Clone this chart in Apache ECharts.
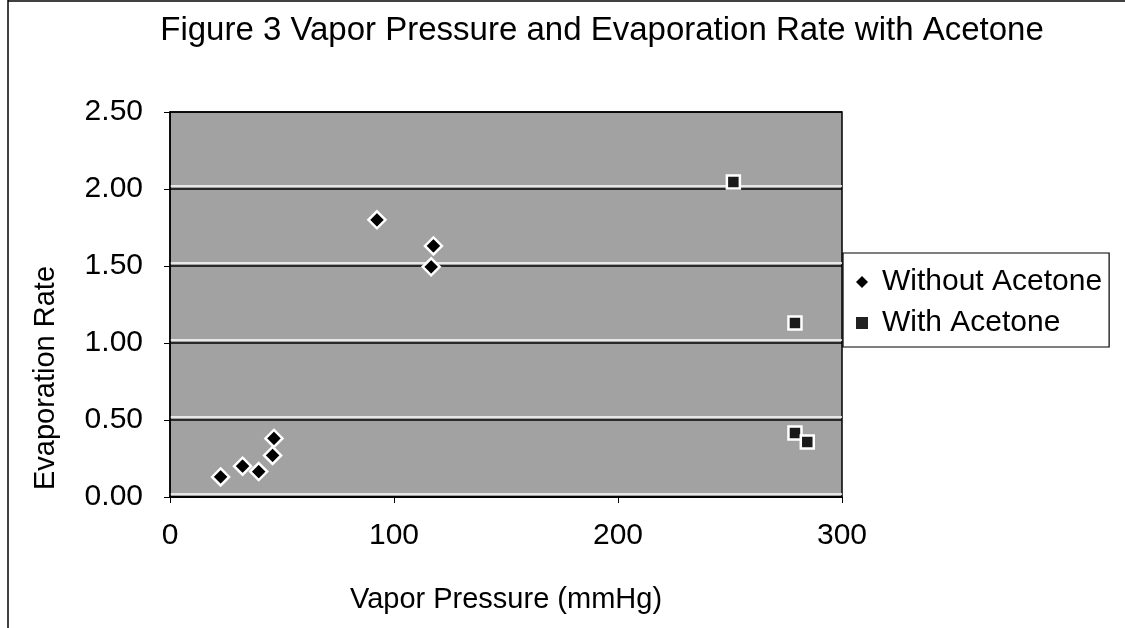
<!DOCTYPE html>
<html>
<head>
<meta charset="utf-8">
<script src="https://cdn.jsdelivr.net/npm/echarts@6/dist/echarts.min.js"></script>
<style>
html,body{margin:0;padding:0;background:#fff;}
#main{width:1125px;height:628px;}
</style>
</head>
<body>
<div id="main"></div>
<script>
// Data
const seriesNames = ['Without Acetone', 'With Acetone'];
const withoutAcetoneX = [22.6, 32.4, 39.6, 45.8, 46.4, 92.4, 117.6, 116.6];
const withoutAcetoneY = [0.13, 0.20, 0.165, 0.27, 0.38, 1.80, 1.63, 1.495];
const withAcetoneX = [251.5, 279, 279, 284.5];
const withAcetoneY = [2.045, 1.13, 0.415, 0.357];
const xTicks = [0, 100, 200, 300];
const yTicks = [0, 0.5, 1.0, 1.5, 2.0, 2.5];

const font = '"Liberation Sans", Arial, sans-serif';
const chart = echarts.init(document.getElementById('main'), null, {renderer: 'canvas'});

function pairs(xs, ys) { return xs.map((x, i) => [x, ys[i]]); }

chart.setOption({
  backgroundColor: '#fff',
  animation: false,
  title: {
    text: 'Figure 3 Vapor Pressure and Evaporation Rate with Acetone',
    left: 597, top: 9, textAlign: 'center',
    textStyle: {fontFamily: font, fontSize: 33, fontWeight: 'normal', color: '#000'}
  },
  grid: {
    left: 170, right: 283, top: 112, bottom: 131,
    show: true, backgroundColor: '#a2a2a2', borderColor: '#000', borderWidth: 1.5
  },
  legend: {
    orient: 'vertical', left: 843, top: 253,
    padding: [14, 7, 9, 13],
    itemWidth: 12, itemHeight: 12, itemGap: 11,
    backgroundColor: '#fff', borderColor: '#000', borderWidth: 1.2,
    textStyle: {fontFamily: font, fontSize: 30, color: '#000', padding: [0, 0, 0, 9]},
    data: [
      {name: seriesNames[0], icon: 'diamond', itemStyle: {color: '#000', borderWidth: 0}},
      {name: seriesNames[1], icon: 'rect', itemStyle: {color: '#222', borderWidth: 0}}
    ]
  },
  xAxis: {
    type: 'value', min: 0, max: 300, interval: 100,
    name: 'Vapor Pressure (mmHg)', nameLocation: 'middle', nameGap: 88,
    nameTextStyle: {fontFamily: font, fontSize: 29, color: '#000'},
    axisLine: {show: true, onZero: false, lineStyle: {color: '#000', width: 1.5}},
    axisTick: {show: true, length: 6, lineStyle: {color: '#000'}},
    axisLabel: {fontFamily: font, fontSize: 30, color: '#000', margin: 24,
      formatter: v => xTicks.indexOf(v) >= 0 ? String(v) : ''},
    splitLine: {show: false}
  },
  yAxis: {
    type: 'value', min: 0, max: 2.5, interval: 0.5,
    axisLine: {show: true, lineStyle: {color: '#000', width: 1.5}},
    axisTick: {show: true, length: 6, lineStyle: {color: '#000'}},
    axisLabel: {fontFamily: font, fontSize: 30, color: '#000', margin: 27,
      formatter: v => yTicks.some(t => Math.abs(t - v) < 1e-9) ? v.toFixed(2) : ''},
    splitLine: {show: true, lineStyle: {color: '#000', width: 1.5,
      shadowColor: '#fff', shadowBlur: 0, shadowOffsetY: -3}}
  },
  graphic: [
    {type: 'line', shape: {x1: 8, y1: 0, x2: 8, y2: 628}, style: {stroke: '#000', lineWidth: 1.5}},
    {type: 'line', shape: {x1: 8, y1: 1, x2: 1125, y2: 1}, style: {stroke: '#000', lineWidth: 1.5}},
    {type: 'text', x: 46, y: 378, rotation: Math.PI / 2,
      style: {text: 'Evaporation Rate', fontFamily: font, fontSize: 29, fill: '#000',
        align: 'center', verticalAlign: 'middle'}}
  ],
  series: [
    {
      name: seriesNames[0], type: 'scatter', symbol: 'diamond', symbolSize: 17,
      itemStyle: {color: '#000', borderColor: '#fff', borderWidth: 2.5, opacity: 1},
      data: pairs(withoutAcetoneX, withoutAcetoneY)
    },
    {
      name: seriesNames[1], type: 'scatter', symbol: 'rect', symbolSize: 13,
      itemStyle: {color: '#1a1a1a', borderColor: '#fff', borderWidth: 2.5, opacity: 1},
      data: pairs(withAcetoneX, withAcetoneY)
    }
  ]
});
</script>
</body>
</html>
